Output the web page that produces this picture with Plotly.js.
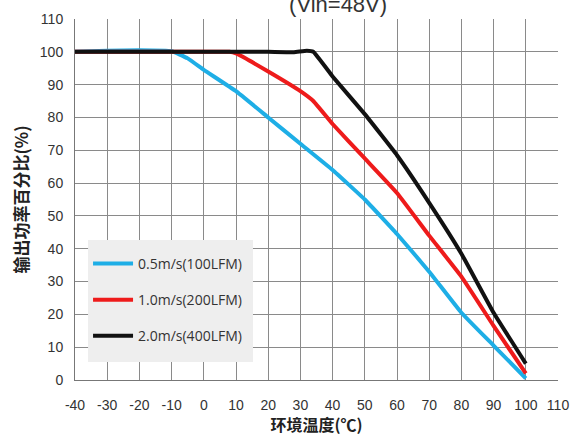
<!DOCTYPE html>
<html>
<head>
<meta charset="utf-8">
<script src="https://cdn.plot.ly/plotly-3.0.1.min.js"></script>
<style>html,body{margin:0;padding:0;background:#fff;}#chart{width:574px;height:436px;}</style>
</head>
<body>
<div id="chart"></div>
<script>
// Data
const blueT = [-40, -30, -20, -10, -5, 0, 10, 20, 30, 40, 50, 60, 70, 80, 90, 100];
const blueV = [100, 100.3, 100.5, 100.2, 98, 94.5, 88, 80, 72, 64, 55, 44.5, 33, 20.5, 10.5, 0.5];
const redT = [-40, -30, -20, -10, 0, 8, 10, 20, 30, 34, 40, 50, 60, 70, 80, 90, 100];
const redV = [100, 100, 100, 100, 100, 100, 99.5, 94, 88, 85, 78, 67.5, 57, 44, 31.5, 16.5, 2];
const blackT = [-40, -30, -20, -10, 0, 10, 20, 28, 32, 34, 40, 50, 60, 70, 80, 90, 100];
const blackV = [100, 100, 100, 100, 100, 100, 100, 99.9, 100.3, 100, 92.5, 81, 68.5, 54, 38.5, 20.5, 5];
const seriesNames = ['0.5m/s(100LFM)', '1.0m/s(200LFM)', '2.0m/s(400LFM)'];
const xTicks = [-40, -30, -20, -10, 0, 10, 20, 30, 40, 50, 60, 70, 80, 90, 100, 110];
const yTicks = [0, 10, 20, 30, 40, 50, 60, 70, 80, 90, 100, 110];

const colors = ['#1eaee6', '#ee1b1b', '#111111'];
const mk = (x, y, i) => ({
  x: x, y: y, name: seriesNames[i], type: 'scatter', mode: 'lines',
  legendgroup: 'g' + i,
  line: {color: colors[i], width: 4, shape: 'spline', smoothing: 0.3}
});
const data = [mk(blueT, blueV, 0), mk(redT, redV, 1), mk(blackT, blackV, 2)];

const fontFam = '"Liberation Sans", Arial, sans-serif';
const layout = {
  width: 574, height: 436,
  margin: {l: 75, r: 16, t: 19, b: 56},
  paper_bgcolor: '#ffffff', plot_bgcolor: '#ffffff',
  font: {family: fontFam, color: '#333333', size: 14},
  title: {text: '(Vin=48V)', x: 0.589, xref: 'container', y: 0.99, yref: 'container', yanchor: 'middle',
          font: {family: fontFam, size: 22, color: '#333333'}},
  showlegend: true,
  legend: {
    x: 0.027, y: 0.366, xanchor: 'left', yanchor: 'top',
    bgcolor: 'rgba(0,0,0,0)', borderwidth: 0,
    font: {family: '"Open Sans", sans-serif', size: 14, color: '#333333'},
    itemwidth: 40, tracegroupgap: 15, traceorder: 'grouped'
  },
  shapes: [{
    type: 'rect', xref: 'paper', yref: 'paper',
    x0: 0.027, x1: 0.3685, y0: 0.05, y1: 0.388,
    fillcolor: '#eeeeee', line: {width: 0}, layer: 'above'
  }],
  xaxis: {
    range: [-40, 110], tickvals: xTicks, ticktext: xTicks.map(String),
    showgrid: true, gridcolor: '#8a8a8a', gridwidth: 1,
    showline: true, linecolor: '#777777', linewidth: 1, mirror: false,
    zeroline: false, ticks: '', ticklabelstandoff: 12,
    tickfont: {family: fontFam, size: 14, color: '#333333'},
    title: {text: '环境温度(℃)', standoff: 4,
            font: {family: '"Noto Sans CJK SC", sans-serif', size: 16, color: '#222222', weight: 'bold'}}
  },
  yaxis: {
    range: [0, 110], tickvals: yTicks, ticktext: yTicks.map(String),
    showgrid: true, gridcolor: '#8a8a8a', gridwidth: 1,
    showline: true, linecolor: '#777777', linewidth: 1,
    zeroline: false, ticks: '', ticklabelstandoff: 8,
    tickfont: {family: fontFam, size: 14, color: '#333333'},
    title: {text: '输出功率百分比(%)', standoff: 6,
            font: {family: '"Noto Sans CJK SC", sans-serif', size: 17, color: '#222222', weight: 'bold'}}
  }
};

Plotly.newPlot('chart', data, layout, {staticPlot: true, displayModeBar: false});
</script>
</body>
</html>
